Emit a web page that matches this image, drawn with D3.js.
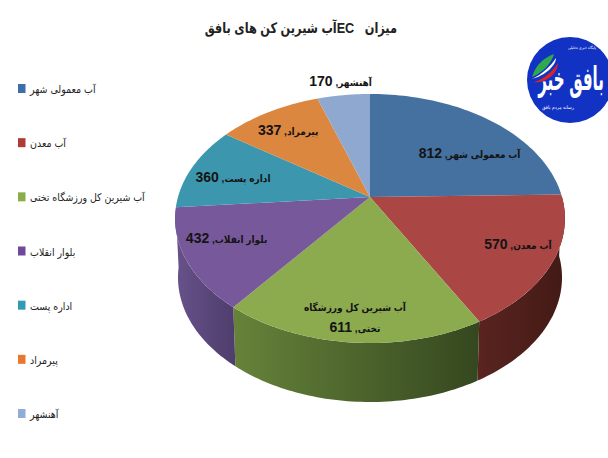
<!DOCTYPE html>
<html><head><meta charset="utf-8">
<script src="https://d3js.org/d3.v7.min.js"></script>
<style>html,body{margin:0;padding:0;background:#fff}svg{display:block}
text{font-family:"Liberation Sans","DejaVu Sans Condensed",sans-serif}</style></head>
<body><svg id="c" width="608" height="458"></svg>
<script>
const titleText = "میزان   ECآب شیرین کن های بافق";
const categories = ["آب معمولی شهر","آب معدن","آب شیرین کل ورزشگاه تختی","بلوار انقلاب","اداره پست","پیرمراد","آهنشهر"];
const values = [812,570,611,432,360,337,170];
const topColors = ["#44719f","#aa4644","#8cab4f","#77599b","#3c97ae","#dc8740","#8fa8d0"];
const legendColors = ["#3c6ea8","#b03a38","#8aad4a","#6f4a9c","#2f9cb3","#e8782e","#8fadd8"];
const sideLight = ["#2c4a6e","#5a2420","#66833a","#67528a","#2a6a7c","#9a5c28","#64769a"];
const sideDark = ["#22395a","#431a16","#35471f","#4f3d6c","#1f5060","#7a4820","#505f7c"];
const labelNames = [["آب معمولی شهر"],["آب معدن"],["آب شیرین کل ورزشگاه","تختی"],["بلوار انقلاب"],["اداره پست"],["پیرمراد"],["آهنشهر"]];
const labelNudgeX = [13,24,-3,-18,-11,-8,-10];
const labelNudgeY = [12,2,24,-2,1,-5,-41];

const svg = d3.select("#c");
const defs = svg.append("defs");

// perspective disc
const cx = 370, cy = 197, B = 192, A = 120.8, K = 0.1726, depth = 59, shrink = 0.985;
function proj(a, r, lower){
  const s = Math.sin(a), c = Math.cos(a), den = 1 + K*c*r;
  const x = B*s*r/den, y = -A*c*r/den;
  return lower ? [cx + x*shrink, cy + y + depth] : [cx + x, cy + y];
}
const arcs = d3.pie().sort(null).value(d=>d)(values);
const line = d3.line();
const samples = (a0,a1) => d3.range(0,61).map(i => a0 + (a1-a0)*i/60);

// side walls on the front of the disc
const frontStart = Math.PI*0.5, frontEnd = Math.PI*1.47;
const sides = svg.append("g");
arcs.forEach((d,i)=>{
  const a0 = Math.max(d.startAngle, frontStart), a1 = Math.min(d.endAngle, frontEnd);
  if (a1 <= a0) return;
  const t = samples(a0,a1);
  const pts = t.map(a=>proj(a,1,false)).concat(t.slice().reverse().map(a=>proj(a,1,true)));
  const xs = pts.map(p=>p[0]);
  const g = defs.append("linearGradient").attr("id","side"+i).attr("gradientUnits","userSpaceOnUse")
    .attr("x1",d3.min(xs)).attr("x2",d3.max(xs)).attr("y1",0).attr("y2",0);
  g.append("stop").attr("offset",0).attr("stop-color",sideLight[i]);
  g.append("stop").attr("offset",1).attr("stop-color",sideDark[i]);
  sides.append("path").attr("d",line(pts)+"Z").attr("fill",`url(#side${i})`);
});

// top faces
svg.append("g").selectAll("path").data(arcs).join("path")
  .attr("d",d=>line([proj(0,0)].concat(samples(d.startAngle,d.endAngle).map(a=>proj(a,1))))+"Z")
  .attr("fill",(d,i)=>topColors[i]);

// data labels
const lab = svg.append("g").attr("font-weight","bold").attr("fill","#141414").attr("font-size",10)
  .attr("text-anchor","middle").style("direction","rtl");
arcs.forEach((d,i)=>{
  const p = proj((d.startAngle+d.endAngle)/2,0.7);
  const x = p[0]+labelNudgeX[i], y = p[1]+labelNudgeY[i];
  const lines = labelNames[i], n = lines.length;
  lines.forEach((s,j)=>{
    const t = lab.append("text").attr("x",x).attr("y",y+5+(j-(n-1)/2)*21);
    t.append("tspan").text(j===n-1 ? s+", " : s);
    if (j===n-1) t.append("tspan").attr("font-size",14).text(values[i]);
  });
});

// title
svg.append("text").attr("transform","translate(397,33) scale(0.87,1)").attr("text-anchor","start").style("direction","rtl")
  .style("white-space","pre").attr("font-size",14.5).attr("font-weight","bold").attr("fill","#222").text(titleText);

// legend
const ly = d3.scalePoint().domain(categories).range([89,414]);
const leg = svg.append("g");
categories.forEach((c,i)=>{
  const y = ly(c);
  leg.append("rect").attr("x",18).attr("y",y-5).attr("width",7.5).attr("height",9).attr("fill",legendColors[i]);
  leg.append("text").attr("x",30).attr("y",y+4).attr("font-size",10.5).attr("fill","#222")
    .style("direction","ltr").text(c);
});

// logo
const logo = svg.append("g").attr("transform","translate(570,80)");
logo.append("circle").attr("r",43).attr("fill","#1232c4");
logo.append("path").attr("d","M-38,-3 C-34,-16 -26,-22 -16,-26 C-18,-18 -26,-8 -38,-3Z").attr("fill","#2fa84f");
logo.append("path").attr("d","M-38,-1 C-28,-6 -20,-13 -14,-22 C-14,-14 -26,-4 -38,-1Z").attr("fill","#fff");
logo.append("path").attr("d","M-36,2 C-26,-1 -18,-8 -12,-17 C-12,-7 -24,4 -36,2Z").attr("fill","#d8232a");
logo.append("text").attr("transform","translate(1,10) scale(0.62,1.2)").attr("text-anchor","middle").attr("font-size",27).attr("font-weight","bold")
  .attr("fill","#fff").style("direction","rtl").text("بافق خبر");
logo.append("text").attr("x",12).attr("y",-31).attr("text-anchor","middle").attr("font-size",4).attr("fill","#fff").style("direction","rtl").text("پایگاه خبری تحلیلی");
logo.append("text").attr("x",-12).attr("y",29).attr("text-anchor","middle").attr("font-size",5).attr("fill","#fff").style("direction","rtl").text("رسانه مردم بافق");
</script></body></html>
